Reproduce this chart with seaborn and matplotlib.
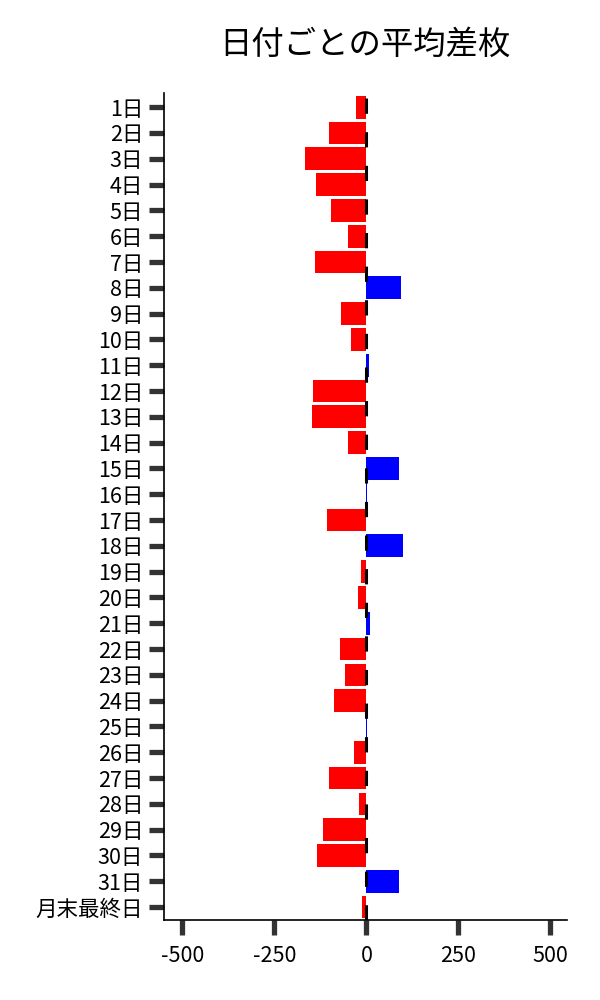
import matplotlib
matplotlib.use("Agg")
import matplotlib.pyplot as plt
import seaborn as sns
import pandas as pd

days = [f"{i}日" for i in range(1, 32)] + ["月末最終日"]
values = [-27, -103, -168, -136, -95, -51, -141, 95, -68, -41,
          6, -144, -149, -51, 88, 2, -108, 100, -16, -24,
          10, -73, -57, -89, 1, -35, -103, -19, -119, -133,
          89, -12]
sign = ["pos" if v >= 0 else "neg" for v in values]

df = pd.DataFrame({"day": days, "value": values, "sign": sign})

sns.set_style("ticks")
plt.rcParams['font.family'] = ['Noto Sans CJK JP', 'DejaVu Sans']

fig = plt.figure(figsize=(6, 10), dpi=100)
ax = fig.add_axes([0.2733, 0.08, 0.6717, 0.827])

sns.barplot(data=df, x="value", y="day", hue="sign",
            palette={"neg": "#ff0000", "pos": "#0000ff"},
            dodge=False, legend=False, width=0.88, orient="h", ax=ax,
            saturation=1, linewidth=0)
ax.axvline(0, color="black", lw=2.2, linestyle=(0, (5, 6)), zorder=3)

ax.set_xlim(-550, 545)
ax.set_ylim(31.5, -0.55)
ax.set_xticks([-500, -250, 0, 250, 500])
ax.set_xticklabels(["-500", "-250", "0", "250", "500"])
ax.set_xlabel("")
ax.set_ylabel("")
ax.tick_params(axis="both", length=11, width=3.8, color="#333333",
               labelsize=15.5, labelcolor="black",
               bottom=True, left=True)
ax.tick_params(axis="x", pad=7)
ax.tick_params(axis="y", pad=4)
for s in ["top", "right"]:
    ax.spines[s].set_visible(False)
for s in ["left", "bottom"]:
    ax.spines[s].set_color("black")
    ax.spines[s].set_linewidth(1.2)

fig.text(0.608, 0.955, "日付ごとの平均差枚", ha="center", va="center",
         fontsize=23.3, color="black")

fig.savefig("out.png", dpi=100)
